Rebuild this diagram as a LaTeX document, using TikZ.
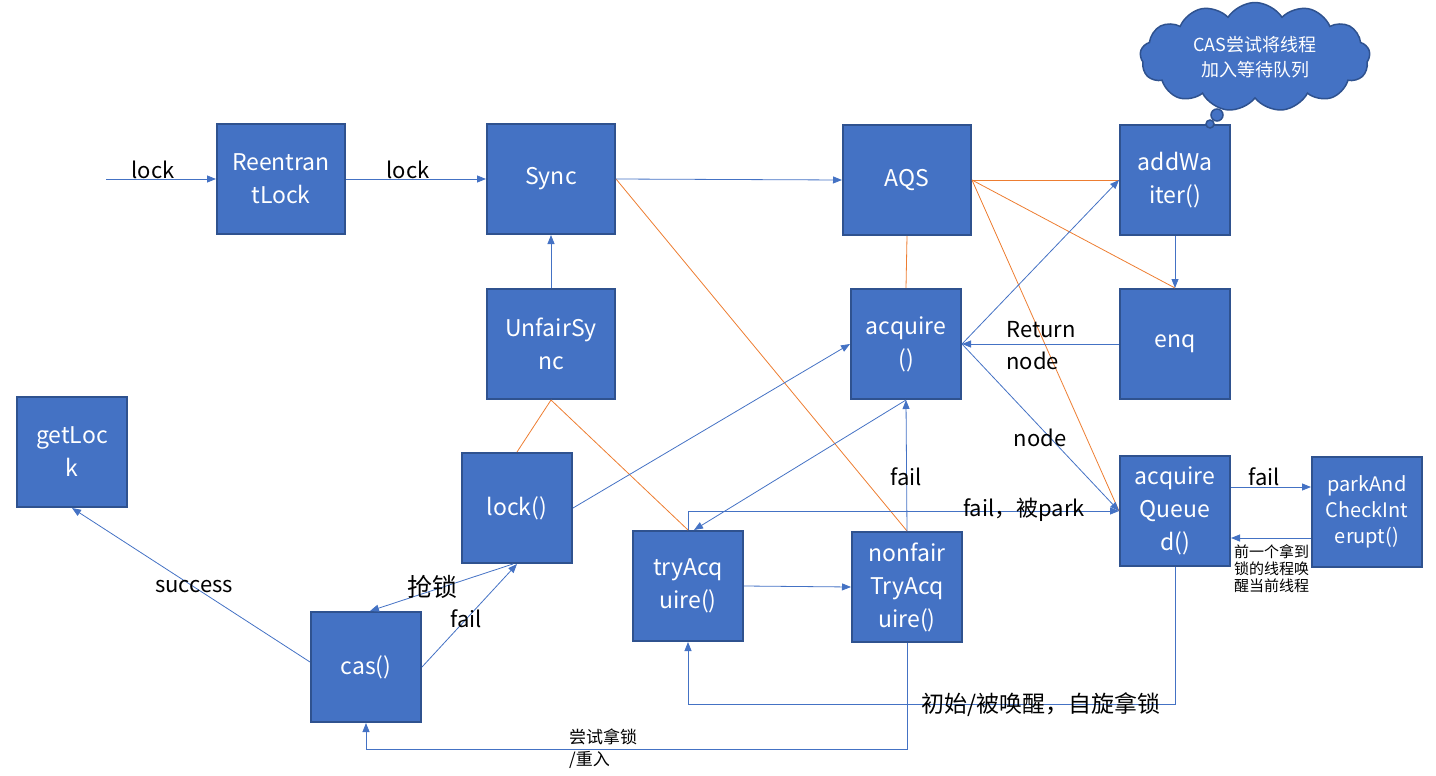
\documentclass[tikz,border=0pt]{standalone}
\usepackage{fontspec}
\setmainfont{Noto Sans CJK SC}
\usetikzlibrary{arrows.meta,calc,shapes.symbols}
\definecolor{boxblue}{HTML}{4472C4}
\definecolor{boxedge}{HTML}{2F528F}
\definecolor{linkorange}{HTML}{ED7D31}
\tikzset{
	blk/.style={draw=boxedge, line width=2pt, fill=boxblue, text=white, align=center, inner sep=0pt,
		minimum width=110pt, minimum height=110pt, font=\fontsize{23}{33}\selectfont},
	wideblk/.style={blk, minimum width=128pt},
	arr/.style={draw=boxblue, line width=0.8pt, -{Triangle[length=9pt,width=7pt]}},
	plain/.style={draw=boxblue, line width=0.8pt},
	orangeline/.style={draw=linkorange, line width=0.8pt},
	lbl/.style={text=black, inner sep=0pt, font=\fontsize{22}{32}\selectfont},
	smalllbl/.style={text=black, inner sep=0pt, align=left, font=\fontsize{15}{17}\selectfont}
}

\begin{document}
\begin{tikzpicture}[x=1pt, y=-1pt]
			%%%%% START %%%%%
			\useasboundingbox (0,0) rectangle (1436,776);
			
			\node[wideblk] (rlock) at (281,179) {Reentran\\tLock};
			\node[wideblk] (sync) at (551,179) {Sync};
			\node[wideblk] (aqs) at (907,180) {AQS};
			\node[blk] (addw) at (1175,180) {addWa\\iter()};
			\node[wideblk] (usync) at (551,344) {UnfairSy\\nc};
			\node[blk] (acq) at (906,344) {acquire\\()};
			\node[blk] (enq) at (1175,344) {enq};
			\node[blk] (getlock) at (72,452) {getLoc\\k};
			\node[blk] (lockm) at (517,508) {lock()};
			\node[blk] (acqq) at (1175,511) {acquire\\Queue\\d()};
			\node[blk, font=\fontsize{20}{26}\selectfont] (park) at (1367,512) {parkAnd\\CheckInt\\erupt()};
			\node[blk] (tryacq) at (688,586) {tryAcq\\uire()};
			\node[blk] (nonfair) at (907,587) {nonfair\\TryAcq\\uire()};
			\node[blk] (cas) at (366,667) {cas()};
			
			% thought cloud
			\node[cloud, cloud puffs=13, cloud puff arc=115, aspect=2.1, minimum width=230pt, minimum height=108pt,
				draw=boxedge, line width=1.5pt, fill=boxblue, text=white, align=center,
				font=\fontsize{18}{25}\selectfont] (bubble) at (1255,57) {CAS尝试将线程\\加入等待队列};
			\draw[draw=boxedge, line width=1.5pt, fill=boxblue] (1217,115) circle (6pt);
			\draw[draw=boxedge, line width=1.5pt, fill=boxblue] (1210,124) circle (4pt);
			
			% orange links
			\draw[orangeline] (sync.east) -- (nonfair.north);
			\draw[orangeline] (usync.south) -- (lockm.north);
			\draw[orangeline] (usync.south) -- (tryacq.north);
			\draw[orangeline] (aqs.south) -- (acq.north);
			\draw[orangeline] (aqs.east) -- (addw.west);
			\draw[orangeline] (aqs.east) -- (enq.north);
			\draw[orangeline] (aqs.east) -- (acqq.west);
			
			% blue calls
			\coordinate (entry) at (106,179);
			\draw[arr] (entry) -- (rlock.west);
			\node[lbl] (lk1) at (153,170) {lock};
			\draw[arr] (rlock.east) -- (sync.west);
			\node[lbl] (lk2) at (408,170) {lock};
			\draw[arr] (sync.east) -- (aqs.west);
			\draw[arr] (usync.north) -- (sync.south);
			\draw[arr] (lockm.east) -- (acq.west);
			\draw[arr] (acq.east) -- (addw.west);
			\draw[arr] (addw.south) -- (enq.north);
			\draw[arr] (enq.west) -- (acq.east);
			\node[lbl, align=left] (retnode) at (1041,346) {Return\\node};
			\draw[arr] (acq.east) -- (acqq.west);
			\node[lbl] (nodelbl) at (1040,438) {node};
			\draw[arr] (acq.south) -- ([xshift=6pt]tryacq.north);
			\draw[arr] (nonfair.north) -- (acq.south);
			\node[lbl] (fail1) at (906,477) {fail};
			\draw[arr] (tryacq.east) -- (nonfair.west);
			\draw[arr] (tryacq.north) |- (acqq.west);
			\node[lbl] (failpark) at (1024,510) {fail，被park};
			\draw[arr] ([yshift=24pt]acqq.east) -- ([yshift=24pt]acqq.east -| park.west);
			\node[lbl] (fail2) at (1264,477) {fail};
			\draw[arr] ([yshift=-26pt]park.west) -- ([yshift=-26pt]park.west -| acqq.east);
			\node[smalllbl, anchor=north west] (wake) at (1234,544) {前一个拿到\\锁的线程唤\\醒当前线程};
			\draw[arr] (acqq.south) -- ++(0,137) -| (tryacq.south);
			\node[lbl, font=\fontsize{23}{30}\selectfont] (spin) at (1041,705) {初始/被唤醒，自旋拿锁};
			\draw[arr] (nonfair.south) -- ++(0,106) -| (cas.south);
			\node[lbl, align=left, anchor=north west, font=\fontsize{17}{22}\selectfont] (retry) at (569,729) {尝试拿锁\\/重入};
			\draw[arr] ([xshift=-4pt]lockm.south) -- ([xshift=4pt]cas.north);
			\node[lbl, font=\fontsize{25}{30}\selectfont] (grab) at (432,587) {抢锁};
			\draw[arr] (cas.east) -- (lockm.south);
			\node[lbl] (fail3) at (466,619) {fail};
			\draw[arr] ([yshift=5pt]cas.west) -- (getlock.south);
			\node[lbl] (succ) at (194,587) {success};
			
			%%%%% END %%%%%
\end{tikzpicture}
\end{document}
